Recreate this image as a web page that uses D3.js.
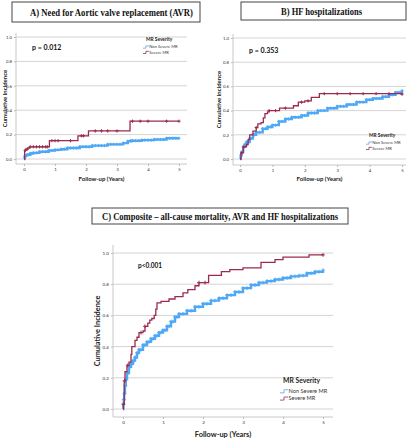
<!DOCTYPE html>
<html><head><meta charset="utf-8">
<script src="https://cdn.jsdelivr.net/npm/d3@7"></script>
<style>body{margin:0;background:#fff}svg{display:block}.ttl{font-family:"Liberation Serif","DejaVu Serif",serif}</style>
</head><body>
<script>
// ---------- DATA ----------
const yTicks = [0, 0.2, 0.4, 0.6, 0.8, 1.0];
const xTicks = [0, 1, 2, 3, 4, 5];
const seriesNames = ["Non Severe MR", "Severe MR"];
const titles = ["A)  Need for Aortic valve replacement (AVR)", "B) HF hospitalizations", "C) Composite \u2013 all-cause mortality, AVR and HF hospitalizations"];
const pValues = ["p = 0.012", "p = 0.353", "p<0.001"];

// Panel A
const aNonSevere = [[0,0],[0.02,0.02],[0.05,0.03],[0.1,0.035],[0.2,0.045],[0.3,0.05],[0.5,0.06],[0.8,0.07],[1.0,0.075],[1.2,0.08],[1.4,0.09],[1.8,0.1],[2.2,0.11],[2.7,0.12],[3.2,0.13],[3.35,0.145],[3.45,0.15],[3.8,0.155],[4.2,0.16],[4.6,0.17],[5.0,0.17]];
const aSevere = [[0,0],[0.02,0.07],[0.05,0.08],[0.12,0.09],[0.18,0.1],[0.82,0.15],[1.74,0.19],[2.08,0.23],[3.42,0.31],[5.0,0.31]];
const aSevereCensor = [0.04,0.1,0.2,0.3,0.4,0.5,0.6,0.7,0.75,0.9,1.0,1.1,1.5,1.85,1.92,2.3,2.5,2.7,3.0,3.5,3.75,4.0,4.6,5.0];
const aNonCensor = [0.15,0.25,0.4,0.6,0.7,0.9,1.1,1.3,1.5,1.6,1.7,1.9,2.0,2.1,2.3,2.4,2.5,2.6,2.8,2.9,3.0,3.1,3.5,3.6,3.7,3.9,4.0,4.1,4.3,4.4,4.5,4.7,4.8,4.9];

// Panel B
const bNonSevere = [[0,0],[0.02,0.03],[0.05,0.06],[0.1,0.1],[0.15,0.12],[0.2,0.14],[0.3,0.17],[0.4,0.2],[0.5,0.22],[0.7,0.25],[0.85,0.265],[1.0,0.28],[1.2,0.31],[1.4,0.33],[1.6,0.345],[1.9,0.36],[2.1,0.38],[2.4,0.4],[2.7,0.42],[3.0,0.435],[3.3,0.45],[3.6,0.47],[3.9,0.49],[4.1,0.5],[4.4,0.515],[4.6,0.53],[4.8,0.55],[5.0,0.565]];
const bSevere = [[0,0],[0.03,0.05],[0.1,0.1],[0.2,0.12],[0.25,0.16],[0.3,0.2],[0.4,0.23],[0.5,0.26],[0.55,0.29],[0.65,0.3],[0.72,0.34],[0.77,0.375],[0.85,0.39],[0.9,0.4],[1.22,0.42],[1.65,0.44],[1.8,0.47],[2.0,0.48],[2.2,0.51],[2.45,0.54],[5.0,0.535]];
const bSevereCensor = [0.05,0.12,0.5,0.9,1.1,1.4,1.9,2.1,2.6,3.0,3.4,3.8,4.2,4.6,5.0];
const bNonCensor = [0.25,0.35,0.45,0.6,0.8,0.95,1.1,1.3,1.5,1.7,1.8,2.0,2.2,2.3,2.5,2.6,2.8,2.9,3.1,3.2,3.4,3.5,3.7,3.8,4.0,4.2,4.3,4.5,4.7,4.9];

// Panel C
const cNonSevere = [[0,0],[0.01,0.03],[0.02,0.06],[0.03,0.1],[0.05,0.15],[0.07,0.19],[0.1,0.23],[0.15,0.27],[0.2,0.29],[0.25,0.31],[0.3,0.33],[0.35,0.36],[0.4,0.38],[0.5,0.41],[0.6,0.43],[0.7,0.45],[0.8,0.47],[0.9,0.49],[1.0,0.505],[1.1,0.53],[1.2,0.56],[1.3,0.59],[1.4,0.61],[1.6,0.63],[1.8,0.655],[2.0,0.675],[2.2,0.695],[2.4,0.71],[2.6,0.73],[2.8,0.75],[3.0,0.775],[3.2,0.795],[3.4,0.81],[3.6,0.82],[3.8,0.83],[4.0,0.84],[4.2,0.85],[4.4,0.855],[4.6,0.87],[4.8,0.88],[5.0,0.89]];
const cSevere = [[0,0],[0.01,0.03],[0.03,0.18],[0.05,0.24],[0.1,0.28],[0.15,0.3],[0.2,0.35],[0.22,0.4],[0.3,0.44],[0.35,0.46],[0.4,0.49],[0.5,0.5],[0.55,0.53],[0.62,0.55],[0.67,0.57],[0.72,0.58],[0.78,0.6],[0.82,0.64],[0.85,0.68],[0.95,0.69],[1.15,0.705],[1.3,0.72],[1.5,0.745],[1.62,0.765],[1.8,0.79],[1.9,0.81],[2.14,0.857],[2.46,0.88],[2.67,0.893],[3.0,0.905],[3.45,0.94],[3.8,0.957],[4.0,0.974],[4.65,0.988],[5.0,0.988]];
const cSevereCensor = [0.01,0.04,0.12,0.45,0.55,1.9,2.05,5.0];
const cNonCensor = [0.02,0.04,0.06,0.08,0.12,0.17,0.22,0.28,0.32,0.38,0.45,0.55,0.65,0.75,0.85,0.95,1.05,1.15,1.25,1.35,1.5,1.7,1.9,2.1,2.3,2.5,2.7,2.9,3.1,3.3,3.5,3.7,3.9,4.1,4.3,4.5,4.7,4.9];

// ---------- DRAW ----------
const W = 412, H = 440;
const svg = d3.select("body").append("svg").attr("width", W).attr("height", H);
const RED = "#9b2a50", BLUE = "#4fa8f6", GRID = "#d4d4d4", SANS = "Lato, 'Open Sans', sans-serif";

const panels = [
  {title: titles[0], p: pValues[0], non: aNonSevere, sev: aSevere, nonC: aNonCensor, sevC: aSevereCensor,
   box: [12, 2, 188, 20], tfs: 11, tx: [30, 163], x: [24, 179], y: [159, 37], frameL: 16, frameR: 187, top: 33, axisY: 164,
   fs: 4.3, labFs: 6, pPos: [32, 50], pFs: 7, leg: [143, 41], legFs: 4.1, legT: 4.8, mk: 1.6, yLabX: 5, xLabY: 181},
  {title: titles[1], p: pValues[1], non: bNonSevere, sev: bSevere, nonC: bNonCensor, sevC: bSevereCensor,
   box: [241, 2, 165, 18], tfs: 11, tx: [281, 81], x: [240, 402], y: [159, 38], frameL: 233, frameR: 406, top: 34, axisY: 165,
   fs: 4.3, labFs: 6, pPos: [249, 53], pFs: 7, leg: [366, 137], legFs: 4.1, legT: 4.8, mk: 1.6, yLabX: 219, xLabY: 181},
  {title: titles[2], p: pValues[2], non: cNonSevere, sev: cSevere, nonC: cNonCensor, sevC: cSevereCensor,
   box: [92, 208, 256, 16], tfs: 10, tx: [102, 236], x: [123, 323], y: [409, 253], frameL: 113, frameR: 333, top: 245, axisY: 417,
   fs: 4.6, labFs: 7.4, pPos: [138, 268], pFs: 6.5, leg: [280, 383], legFs: 5.6, legT: 6.8, mk: 1.9, yLabX: 97, xLabY: 437}
];

function stepVal(series, t) {
  let v = series[0][1];
  for (const d of series) { if (d[0] <= t) v = d[1]; }
  return v;
}

panels.forEach(P => {
  const g = svg.append("g");
  // title box
  g.append("rect").attr("x", P.box[0]).attr("y", P.box[1]).attr("width", P.box[2]).attr("height", P.box[3])
    .attr("fill", "#fff").attr("stroke", "#444").attr("stroke-width", 1);
  g.append("text").attr("class", "ttl").attr("x", P.tx[0]).attr("y", P.box[1] + P.box[3] / 2 + P.tfs * 0.35)
    .attr("textLength", P.tx[1]).attr("lengthAdjust", "spacingAndGlyphs")
    .attr("font-weight", "bold").attr("font-size", P.tfs).attr("fill", "#111").text(P.title);

  const x = d3.scaleLinear().domain([0, 5]).range(P.x);
  const y = d3.scaleLinear().domain([0, 1]).range(P.y);

  // gridlines
  g.selectAll(".grid").data(yTicks).join("line")
    .attr("x1", P.frameL).attr("x2", P.frameR).attr("y1", d => y(d)).attr("y2", d => y(d))
    .attr("stroke", GRID).attr("stroke-width", 1);
  // frame
  g.append("line").attr("x1", P.frameL).attr("x2", P.frameL).attr("y1", P.top).attr("y2", P.axisY).attr("stroke", "#c8c8c8");
  g.append("line").attr("x1", P.frameL).attr("x2", P.frameR).attr("y1", P.axisY).attr("y2", P.axisY).attr("stroke", "#c8c8c8");

  // axes via d3
  const yAxis = d3.axisLeft(y).tickValues(yTicks).tickFormat(d3.format(".1f")).tickSize(2).tickPadding(2);
  const ya = g.append("g").attr("transform", `translate(${P.frameL},0)`).call(yAxis);
  const xAxis = d3.axisBottom(x).tickValues(xTicks).tickFormat(d3.format("d")).tickSize(2).tickPadding(2);
  const xa = g.append("g").attr("transform", `translate(0,${P.axisY})`).call(xAxis);
  [ya, xa].forEach(a => {
    a.select(".domain").remove();
    a.selectAll("line").attr("stroke", "#bbb");
    a.selectAll("text").attr("font-family", SANS).attr("font-size", P.fs).attr("fill", "#333");
  });

  // axis labels
  g.append("text").attr("x", (P.frameL + P.frameR) / 2).attr("y", P.xLabY).attr("text-anchor", "middle")
    .attr("font-family", SANS).attr("font-weight", "bold").attr("font-size", P.labFs).attr("fill", "#222").text("Follow-up (Years)");
  g.append("text").attr("transform", `translate(${P.yLabX},${(P.top + P.axisY) / 2}) rotate(-90)`).attr("text-anchor", "middle")
    .attr("dy", "0.35em").attr("font-family", SANS).attr("font-weight", "bold").attr("font-size", P.labFs).attr("fill", "#222").text("Cumulative Incidence");

  // p value
  g.append("text").attr("x", P.pPos[0]).attr("y", P.pPos[1]).attr("font-family", SANS).attr("font-weight", "bold")
    .attr("font-size", P.pFs).attr("fill", "#111").text(P.p);

  // curves
  const line = d3.line().x(d => x(d[0])).y(d => y(d[1])).curve(d3.curveStepAfter);
  const drawSeries = (data, cens, color, sw, mk, msw) => {
    g.append("path").datum(data).attr("d", line).attr("fill", "none").attr("stroke", color).attr("stroke-width", sw);
    const pts = cens.map(t => [t, stepVal(data, t)]);
    g.selectAll(null).data(pts).join("path")
      .attr("d", d => `M${x(d[0]) - mk},${y(d[1])}H${x(d[0]) + mk}M${x(d[0])},${y(d[1]) - mk}V${y(d[1]) + mk}`)
      .attr("stroke", color).attr("stroke-width", msw).attr("fill", "none");
  };
  drawSeries(P.non, P.nonC.concat(P.non.map(d => d[0]).filter(t => t > 0.05)), BLUE, 2.4, P.mk, 1);
  drawSeries(P.sev, P.sevC, RED, 1.3, P.mk, 1);

  // legend
  const L = g.append("g").attr("transform", `translate(${P.leg[0]},${P.leg[1]})`);
  L.append("text").attr("x", 3).attr("y", 0).attr("font-family", SANS).attr("font-weight", "bold")
    .attr("font-size", P.legT).attr("fill", "#222").text("MR Severity");
  [BLUE, RED].forEach((c, i) => {
    const yy = P.legFs * 1.75 + i * P.legFs * 1.3;
    const s = P.legFs * 0.9;
    L.append("path").attr("d", `M0,${yy}H${s * 0.8}V${yy - s * 0.6}H${s * 1.6}`).attr("fill", "none").attr("stroke", c).attr("stroke-width", 0.8);
    L.append("text").attr("x", s * 1.7).attr("y", yy + 0.2).attr("font-family", SANS).attr("font-size", P.legFs)
      .attr("fill", "#333").text(seriesNames[i]);
  });
});
</script>
</body></html>
